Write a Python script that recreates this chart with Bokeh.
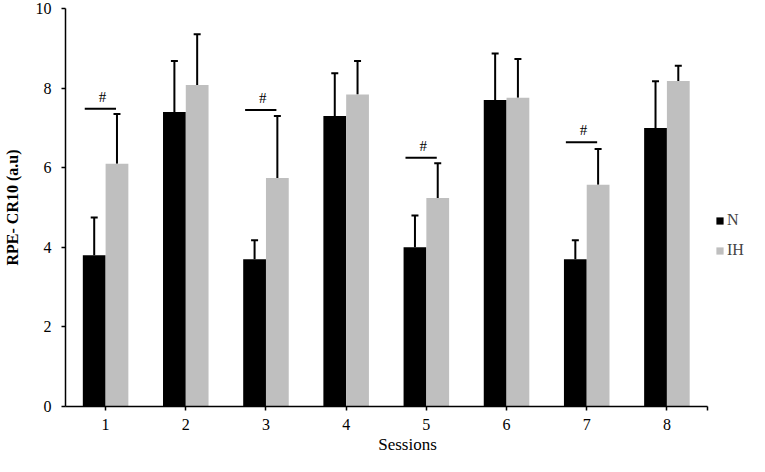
from bokeh.plotting import figure
from bokeh.models import (ColumnDataSource, Range1d, FixedTicker, Whisker, TeeHead,
                          Legend, LegendItem)
from bokeh.core.properties import value
from bokeh.embed import file_html
from bokeh.resources import INLINE

# ---- data ----
sessions = [1, 2, 3, 4, 5, 6, 7, 8]
n_mean = [3.8, 7.4, 3.7, 7.3, 4.0, 7.7, 3.7, 7.0]
n_sd = [0.95, 1.28, 0.48, 1.07, 0.8, 1.17, 0.48, 1.17]
ih_mean = [6.1, 8.08, 5.74, 7.84, 5.24, 7.76, 5.57, 8.18]
ih_sd = [1.25, 1.27, 1.56, 0.84, 0.87, 0.97, 0.9, 0.38]
sig_sessions = [1, 3, 5, 7]
sig_level = [7.48, 7.45, 6.25, 6.64]
series_names = ["N", "IH"]
y_ticks = [0, 2, 4, 6, 8, 10]

FONT = "'Liberation Serif', 'Times New Roman', serif"
BLACK = "#000000"
GREY = "#BFBFBF"
OFF = 0.142
BW = 0.284

# frame extends to the right edge so the legend can sit inside it;
# the x axis line itself is bounded to the session range
p = figure(width=749, height=456, output_backend="svg", toolbar_location=None,
           x_range=Range1d(0.5, 9.03), y_range=Range1d(0, 10),
           min_border_left=62, min_border_right=0, min_border_top=8,
           min_border_bottom=0)
p.background_fill_color = None
p.border_fill_color = "white"
p.outline_line_color = None
p.grid.grid_line_color = None

n_src = ColumnDataSource(dict(x=[s - OFF for s in sessions], top=n_mean,
                              up=[m + e for m, e in zip(n_mean, n_sd)]))
ih_src = ColumnDataSource(dict(x=[s + OFF for s in sessions], top=ih_mean,
                               up=[m + e for m, e in zip(ih_mean, ih_sd)]))

r_n = p.vbar(x="x", top="top", bottom=0, width=BW, source=n_src,
             fill_color=BLACK, line_color=None)
r_ih = p.vbar(x="x", top="top", bottom=0, width=BW, source=ih_src,
              fill_color=GREY, line_color=None)

for src in (n_src, ih_src):
    w = Whisker(source=src, base="x", lower="top", upper="up",
                line_color="black", line_width=2,
                upper_head=TeeHead(size=7, line_width=2, line_color="black"),
                lower_head=None)
    p.add_layout(w)

sig_src = ColumnDataSource(dict(
    x0=[s - 0.26 for s in sig_sessions], x1=[s + 0.13 for s in sig_sessions],
    y=sig_level, tx=[s - 0.04 for s in sig_sessions],
    ty=[v + 0.3 for v in sig_level], t=["#"] * len(sig_sessions)))
p.segment(x0="x0", x1="x1", y0="y", y1="y", source=sig_src,
          line_color="black", line_width=2)
p.text(x="tx", y="ty", text="t", source=sig_src, text_font=value(FONT),
       text_font_size="15px", text_align="center", text_baseline="middle",
       text_color="black")

# axes
p.xaxis.bounds = (0.5, 8.5)
p.xaxis.ticker = FixedTicker(ticks=sessions + [8.5])
p.xaxis.major_label_overrides = {8.5: ""}
p.yaxis.ticker = FixedTicker(ticks=y_ticks)
for ax in (p.xaxis, p.yaxis):
    ax.axis_line_color = "black"
    ax.axis_line_width = 1.5
    ax.major_tick_line_color = "black"
    ax.major_tick_line_width = 1.5
    ax.major_tick_in = 0
    ax.major_tick_out = 4
    ax.minor_tick_line_color = None
    ax.major_label_text_font = FONT
    ax.major_label_text_font_size = "16px"
    ax.major_label_text_color = "black"
    ax.axis_label_text_font = FONT
    ax.axis_label_text_color = "black"
p.xaxis.major_label_standoff = 8
p.yaxis.major_label_standoff = 10
p.xaxis.axis_label = "Sessions"
p.xaxis.axis_label_text_font_size = "17px"
p.xaxis.axis_label_text_font_style = "normal"
p.xaxis.axis_label_standoff = 2
p.yaxis.axis_label = "RPE- CR10 (a.u)"
p.yaxis.axis_label_text_font_size = "16px"
p.yaxis.axis_label_text_font_style = "bold"
p.yaxis.axis_label_standoff = 12

legend = Legend(items=[LegendItem(label=series_names[0], renderers=[r_n]),
                       LegendItem(label=series_names[1], renderers=[r_ih])],
                location=(650, 146), orientation="vertical",
                glyph_width=9, glyph_height=9, label_height=20,
                label_text_font=FONT, label_text_font_size="16px",
                label_standoff=3, spacing=10, padding=0, margin=0,
                border_line_color=None, background_fill_alpha=0)
p.add_layout(legend, "center")

open("out.html", "w").write(file_html(p, INLINE))
